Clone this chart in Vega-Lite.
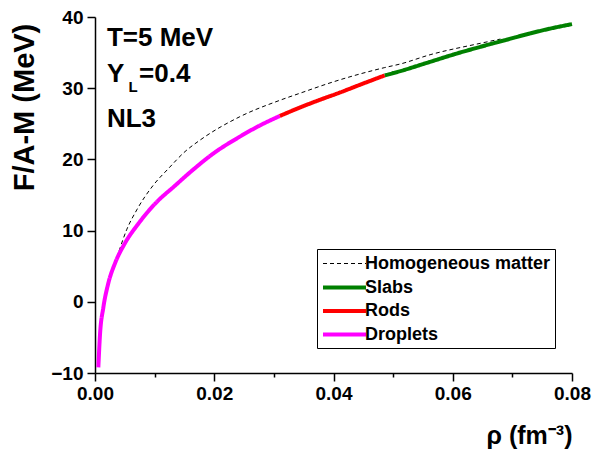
{
  "$schema": "https://vega.github.io/schema/vega-lite/v6.json",
  "width": 477,
  "height": 356,
  "autosize": "none",
  "padding": {"left": 95, "top": 17, "right": 21, "bottom": 90},
  "background": "white",
  "config": {"view": {"stroke": null}, "font": "Liberation Sans"},
  "datasets": {
    "curves": [
      {"phase": "Homogeneous matter", "rho": 0.0033, "F": 5.3},
      {"phase": "Homogeneous matter", "rho": 0.0039, "F": 6.8},
      {"phase": "Homogeneous matter", "rho": 0.0053, "F": 10.1},
      {"phase": "Homogeneous matter", "rho": 0.007, "F": 12.9},
      {"phase": "Homogeneous matter", "rho": 0.0098, "F": 16.4},
      {"phase": "Homogeneous matter", "rho": 0.0123, "F": 18.7},
      {"phase": "Homogeneous matter", "rho": 0.0151, "F": 21.1},
      {"phase": "Homogeneous matter", "rho": 0.0176, "F": 22.7},
      {"phase": "Homogeneous matter", "rho": 0.0243, "F": 26.0},
      {"phase": "Homogeneous matter", "rho": 0.031, "F": 28.3},
      {"phase": "Homogeneous matter", "rho": 0.0344, "F": 29.3},
      {"phase": "Homogeneous matter", "rho": 0.04, "F": 30.9},
      {"phase": "Homogeneous matter", "rho": 0.0486, "F": 32.9},
      {"phase": "Homogeneous matter", "rho": 0.0512, "F": 33.4},
      {"phase": "Homogeneous matter", "rho": 0.0562, "F": 34.7},
      {"phase": "Homogeneous matter", "rho": 0.0646, "F": 36.3},
      {"phase": "Homogeneous matter", "rho": 0.068, "F": 36.9},
      {"phase": "Droplets", "rho": 0.00056, "F": -9.2},
      {"phase": "Droplets", "rho": 0.00084, "F": -4.6},
      {"phase": "Droplets", "rho": 0.0014, "F": -0.8},
      {"phase": "Droplets", "rho": 0.0022, "F": 2.5},
      {"phase": "Droplets", "rho": 0.0034, "F": 5.5},
      {"phase": "Droplets", "rho": 0.005, "F": 8.2},
      {"phase": "Droplets", "rho": 0.0073, "F": 11.0},
      {"phase": "Droplets", "rho": 0.0101, "F": 13.8},
      {"phase": "Droplets", "rho": 0.0134, "F": 16.3},
      {"phase": "Droplets", "rho": 0.0168, "F": 18.8},
      {"phase": "Droplets", "rho": 0.0198, "F": 20.8},
      {"phase": "Droplets", "rho": 0.0243, "F": 23.2},
      {"phase": "Droplets", "rho": 0.0275, "F": 24.7},
      {"phase": "Droplets", "rho": 0.031, "F": 26.1},
      {"phase": "Rods", "rho": 0.031, "F": 26.1},
      {"phase": "Rods", "rho": 0.0344, "F": 27.3},
      {"phase": "Rods", "rho": 0.0375, "F": 28.3},
      {"phase": "Rods", "rho": 0.0411, "F": 29.4},
      {"phase": "Rods", "rho": 0.0445, "F": 30.5},
      {"phase": "Rods", "rho": 0.0486, "F": 31.8},
      {"phase": "Slabs", "rho": 0.0486, "F": 31.8},
      {"phase": "Slabs", "rho": 0.0512, "F": 32.4},
      {"phase": "Slabs", "rho": 0.0562, "F": 33.7},
      {"phase": "Slabs", "rho": 0.0604, "F": 34.8},
      {"phase": "Slabs", "rho": 0.0646, "F": 35.8},
      {"phase": "Slabs", "rho": 0.069, "F": 36.8},
      {"phase": "Slabs", "rho": 0.073, "F": 37.7},
      {"phase": "Slabs", "rho": 0.0765, "F": 38.4},
      {"phase": "Slabs", "rho": 0.08, "F": 39.0}
    ],
    "notes": [
      {"rho": 0.002, "F": 35.9, "label": "T=5 MeV"},
      {"rho": 0.002, "F": 30.9, "label": "Y"},
      {"rho": 0.0074, "F": 30.9, "label": "=0.4"},
      {"rho": 0.002, "F": 24.6, "label": "NL3"}
    ],
    "subs": [
      {"rho": 0.0056, "F": 29.4, "label": "L"}
    ]
  },
  "layer": [
    {
      "data": {"name": "curves"},
      "mark": {"type": "line", "interpolate": "monotone"},
      "encoding": {
        "x": {
          "field": "rho", "type": "quantitative",
          "scale": {"domain": [0, 0.08], "nice": false, "zero": false},
          "axis": {
            "values": [0, 0.01, 0.02, 0.03, 0.04, 0.05, 0.06, 0.07, 0.08],
            "format": ".2f",
            "labelExpr": "round(datum.value*1000) % 20 === 0 ? datum.label : ''",
            "labelFlush": false, "labelOverlap": false,
            "tickSize": {"condition": {"test": "round(datum.value*1000) % 20 === 0", "value": 8}, "value": 4},
            "grid": false,
            "domainColor": "black", "domainWidth": 1.5,
            "tickColor": "black", "tickWidth": 1.5,
            "labelFont": "Liberation Sans", "labelFontSize": 19, "labelFontWeight": "bold", "labelColor": "black",
            "labelPadding": 3,
            "title": "ρ (fm⁻³)",
            "titleFont": "Liberation Sans", "titleFontSize": 25, "titleFontWeight": "bold", "titleColor": "black",
            "titleX": 477, "titleY": 70, "titleAlign": "right", "titleBaseline": "alphabetic"
          }
        },
        "y": {
          "field": "F", "type": "quantitative",
          "scale": {"domain": [-10, 40], "nice": false, "zero": false},
          "axis": {
            "values": [-10, -5, 0, 5, 10, 15, 20, 25, 30, 35, 40],
            "labelExpr": "datum.value % 10 === 0 ? datum.label : ''",
            "labelFlush": false, "labelOverlap": false,
            "tickSize": {"condition": {"test": "datum.value % 10 === 0", "value": 8}, "value": 4},
            "grid": false,
            "domainColor": "black", "domainWidth": 1.5,
            "tickColor": "black", "tickWidth": 1.5,
            "labelFont": "Liberation Sans", "labelFontSize": 19, "labelFontWeight": "bold", "labelColor": "black",
            "labelPadding": 4,
            "title": "F/A-M (MeV)",
            "titleFont": "Liberation Sans", "titleFontSize": 29, "titleFontWeight": "bold", "titleColor": "black",
            "titleAngle": -90, "titleX": -62, "titleY": 90, "titleAlign": "center", "titleBaseline": "alphabetic"
          }
        },
        "color": {
          "field": "phase", "type": "nominal",
          "scale": {"domain": ["Homogeneous matter", "Slabs", "Rods", "Droplets"], "range": ["#000000", "#008000", "#ff0000", "#ff00ff"]},
          "legend": {"title": null, "orient": "none", "legendX": 222, "legendY": 232, "symbolType": "M-1,0L3.3,0", "symbolSize": 400, "labelFont": "Liberation Sans", "labelFontSize": 18, "labelFontWeight": "bold", "labelColor": "black", "labelLimit": 300, "strokeColor": "black", "fillColor": "white", "padding": 4, "rowPadding": 2.5, "labelOffset": 20}
        },
        "strokeDash": {
          "field": "phase", "type": "nominal",
          "scale": {"domain": ["Homogeneous matter", "Slabs", "Rods", "Droplets"], "range": [[4, 3], [1, 0], [1, 0], [1, 0]]},
          "legend": {"title": null, "orient": "none", "legendX": 222, "legendY": 232, "symbolType": "M-1,0L3.3,0", "symbolSize": 400, "labelFont": "Liberation Sans", "labelFontSize": 18, "labelFontWeight": "bold", "labelColor": "black", "labelLimit": 300, "strokeColor": "black", "fillColor": "white", "padding": 4, "rowPadding": 2.5, "labelOffset": 20}
        },
        "strokeWidth": {
          "field": "phase", "type": "nominal",
          "scale": {"type": "ordinal", "domain": ["Homogeneous matter", "Slabs", "Rods", "Droplets"], "range": [1, 4, 4, 4]},
          "legend": {"title": null, "orient": "none", "legendX": 222, "legendY": 232, "symbolType": "M-1,0L3.3,0", "symbolSize": 400, "labelFont": "Liberation Sans", "labelFontSize": 18, "labelFontWeight": "bold", "labelColor": "black", "labelLimit": 300, "strokeColor": "black", "fillColor": "white", "padding": 4, "rowPadding": 2.5, "labelOffset": 20}
        },
        "order": {"field": "rho", "type": "quantitative"}
      }
    },
    {
      "data": {"name": "notes"},
      "mark": {"type": "text", "align": "left", "baseline": "alphabetic", "font": "Liberation Sans", "fontSize": 26, "fontWeight": "bold", "color": "black"},
      "encoding": {
        "x": {"field": "rho", "type": "quantitative"},
        "y": {"field": "F", "type": "quantitative"},
        "text": {"field": "label", "type": "nominal"}
      }
    },
    {
      "data": {"name": "subs"},
      "mark": {"type": "text", "align": "left", "baseline": "alphabetic", "font": "Liberation Sans", "fontSize": 15, "fontWeight": "bold", "color": "black"},
      "encoding": {
        "x": {"field": "rho", "type": "quantitative"},
        "y": {"field": "F", "type": "quantitative"},
        "text": {"field": "label", "type": "nominal"}
      }
    }
  ]
}
